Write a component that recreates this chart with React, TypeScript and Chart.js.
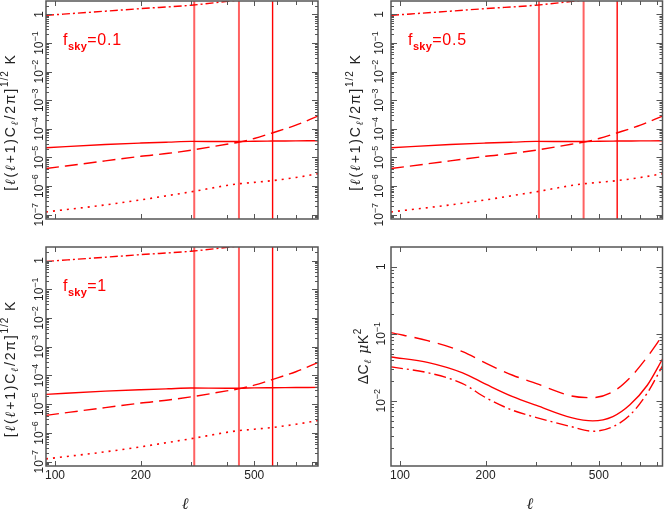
import React, { useEffect, useRef } from "react";
import { Chart, registerables } from "chart.js";

Chart.register(...registerables);

const W = 665;
const H = 511;

// ---------- axis ranges / ticks ----------
const L_MIN = 93;
const L_MAX = 837;
const Y_AMP_MIN = 7.08e-8;
const Y_AMP_MAX = 2.95;
const Y_ERR_MIN = 1.06e-3;
const Y_ERR_MAX = 1.97;

const X_TICK_LABELS = [100, 200, 500];
const X_MINOR_TICKS = [300, 400, 600, 700, 800];
const Y_AMP_DECADES = [-7, -6, -5, -4, -3, -2, -1, 0];
const Y_ERR_DECADES = [-2, -1, 0];

// ---------- amplitude panels (f_sky = 0.1, 0.5, 1) ----------
const ELL = [93, 150, 200, 250, 300, 400, 440, 500, 578, 700, 837];
const SIGNAL = [2.2e-5, 2.85e-5, 3.2e-5, 3.45e-5, 3.65e-5, 3.6e-5, 3.6e-5, 3.7e-5, 3.75e-5, 3.8e-5, 3.85e-5];
const NOISE_DASH = [4.1e-6, 7.6e-6, 1.1e-5, 1.4e-5, 1.8e-5, 2.9e-5, 3.4e-5, 4.6e-5, 7.2e-5, 1.35e-4, 2.8e-4];
const NOISE_DOT = [1.25e-7, 2.2e-7, 3.3e-7, 4.7e-7, 6.3e-7, 1.05e-6, 1.2e-6, 1.35e-6, 1.55e-6, 2.0e-6, 2.7e-6];
const ELL_FG = [93, 150, 200, 300, 411, 500];
const FOREGROUND = [0.93, 1.3, 1.6, 2.1, 2.95, 3.7];
const MARKERS = [308, 442, 580];
const FSKY = ["0.1", "0.5", "1"];

// ---------- error panel ----------
const ELL_ERR = [93, 126, 166, 201, 249, 302, 400, 476, 560, 643, 740, 840];
const ERR_DASH = [0.104, 0.078, 0.054, 0.036, 0.024, 0.018, 0.0118, 0.0111, 0.0136, 0.022, 0.045, 0.096];
const ERR_SOLID = [0.045, 0.037, 0.026, 0.0175, 0.0115, 0.0085, 0.0056, 0.005, 0.0058, 0.0087, 0.017, 0.043];
const ERR_DASHDOT = [0.032, 0.026, 0.018, 0.011, 0.0072, 0.0056, 0.0041, 0.0035, 0.0041, 0.0061, 0.013, 0.034];

const SANS = '"Liberation Sans", Arial, Helvetica, sans-serif';
const RED = "#ff0000";
const FRAME = "#555555";

type Area = { left: number; top: number; right: number; bottom: number };
type Panel = {
  key: string;
  kind: "amp" | "err";
  area: Area;
  fsky?: string;
  xLabels: boolean;
  yLabelX: number;
  titleX: number;
};

const PANELS: Panel[] = [
  { key: "tl", kind: "amp", area: { left: 46, top: 1, right: 318, bottom: 219 }, fsky: FSKY[0], xLabels: false, yLabelX: 43, titleX: 15 },
  { key: "tr", kind: "amp", area: { left: 391, top: 1, right: 662.5, bottom: 219 }, fsky: FSKY[1], xLabels: false, yLabelX: 383, titleX: 360 },
  { key: "bl", kind: "amp", area: { left: 46, top: 247, right: 318, bottom: 466 }, fsky: FSKY[2], xLabels: true, yLabelX: 43, titleX: 15 },
  { key: "br", kind: "err", area: { left: 391, top: 247, right: 662.5, bottom: 466 }, xLabels: true, yLabelX: 385, titleX: 368 },
];

type Seg = { t: string; font: string; dy?: number; sp?: number };

function richWidth(ctx: CanvasRenderingContext2D, segs: Seg[]) {
  let w = 0;
  for (const s of segs) {
    ctx.font = s.font;
    for (const ch of Array.from(s.t)) w += ctx.measureText(ch).width + (s.sp || 0);
  }
  return w;
}

function drawRich(ctx: CanvasRenderingContext2D, segs: Seg[], x: number, y: number, align: "left" | "center") {
  const w = richWidth(ctx, segs);
  let cx = align === "center" ? x - w / 2 : x;
  ctx.textAlign = "left";
  ctx.textBaseline = "alphabetic";
  for (const s of segs) {
    ctx.font = s.font;
    for (const ch of Array.from(s.t)) {
      ctx.fillText(ch, cx, y + (s.dy || 0));
      cx += ctx.measureText(ch).width + (s.sp || 0);
    }
  }
}

function drawRotated(ctx: CanvasRenderingContext2D, segs: Seg[], baseX: number, centerY: number) {
  ctx.save();
  ctx.translate(baseX, centerY);
  ctx.rotate(-Math.PI / 2);
  drawRich(ctx, segs, 0, 0, "center");
  ctx.restore();
}

function powLabel(d: number): Seg[] {
  if (d === 0) return [{ t: "1", font: `12px ${SANS}` }];
  return [
    { t: "10", font: `12px ${SANS}` },
    { t: "\u2212" + Math.abs(d), font: `9px ${SANS}`, dy: -5.5 },
  ];
}

function framePlugin(p: Panel) {
  return {
    id: "frame_" + p.key,
    afterDraw(chart: any) {
      const ctx: CanvasRenderingContext2D = chart.ctx;
      const { left, top, right, bottom } = chart.chartArea;
      const xs = chart.scales.x;
      const ys = chart.scales.y;
      const yMin = p.kind === "amp" ? Y_AMP_MIN : Y_ERR_MIN;
      const yMax = p.kind === "amp" ? Y_AMP_MAX : Y_ERR_MAX;
      ctx.save();
      // ticks
      ctx.strokeStyle = FRAME;
      ctx.lineWidth = 1;
      ctx.beginPath();
      const xt = [...X_TICK_LABELS.map((v) => [v, 5]), ...X_MINOR_TICKS.map((v) => [v, 4])];
      for (const [v, len] of xt) {
        const px = Math.round(xs.getPixelForValue(v)) + 0.5;
        ctx.moveTo(px, bottom);
        ctx.lineTo(px, bottom - len);
        ctx.moveTo(px, top);
        ctx.lineTo(px, top + len);
      }
      for (let d = -9; d <= 1; d++) {
        for (let k = 1; k <= 9; k++) {
          const v = k * Math.pow(10, d);
          if (v < yMin || v > yMax) continue;
          const py = Math.round(ys.getPixelForValue(v)) + 0.5;
          const len = k === 1 ? 6 : 3;
          ctx.moveTo(left, py);
          ctx.lineTo(left + len, py);
          ctx.moveTo(right, py);
          ctx.lineTo(right - len, py);
        }
      }
      ctx.stroke();
      // frame
      ctx.lineWidth = 1.5;
      ctx.strokeRect(left, top, right - left, bottom - top);

      // y tick labels
      ctx.fillStyle = "#222";
      const decs = p.kind === "amp" ? Y_AMP_DECADES : Y_ERR_DECADES;
      for (const d of decs) {
        const py = ys.getPixelForValue(Math.pow(10, d));
        drawRotated(ctx, powLabel(d), p.yLabelX, py);
      }
      // x tick labels
      if (p.xLabels) {
        for (const v of X_TICK_LABELS) {
          const px = xs.getPixelForValue(v);
          drawRich(ctx, [{ t: String(v), font: `12px ${SANS}` }], px, bottom + 13, "center");
        }
        ctx.fillStyle = "#222";
        drawRich(ctx, [{ t: "\u2113", font: `italic 16px "DejaVu Serif", serif` }], (left + right) / 2 + 3, 509, "center");
      }
      // y title
      ctx.fillStyle = "#222";
      if (p.kind === "amp") {
        const f = `14px ${SANS}`;
        const fi = `italic 14px "DejaVu Serif", serif`;
        const fs = `10px ${SANS}`;
        const fsi = `italic 10px "DejaVu Serif", serif`;
        const sp = 1.8;
        drawRotated(
          ctx,
          [
            { t: "[", font: f, sp },
            { t: "\u2113", font: fi, sp },
            { t: "(", font: f, sp },
            { t: "\u2113", font: fi, sp },
            { t: "+1)C", font: f, sp },
            { t: "\u2113", font: fsi, dy: 3, sp },
            { t: "/2\u03c0]", font: f, sp },
            { t: "1/2", font: fs, dy: -7, sp: 1 },
            { t: " K", font: f, sp },
          ],
          p.titleX,
          (top + bottom) / 2 + 12
        );
      } else {
        const f = `14px ${SANS}`;
        drawRotated(
          ctx,
          [
            { t: "\u0394C", font: f, sp: 0.5 },
            { t: "\u2113", font: `italic 10px "DejaVu Serif", serif`, dy: 3, sp: 2 },
            { t: " ", font: f },
            { t: "\u03bc", font: `italic 14px "DejaVu Serif", serif`, sp: 0.5 },
            { t: "K", font: f, sp: 0.5 },
            { t: "2", font: `10px ${SANS}`, dy: -7 },
          ],
          p.titleX,
          (top + bottom) / 2
        );
      }
      // f_sky annotation
      if (p.fsky) {
        ctx.fillStyle = RED;
        drawRich(
          ctx,
          [
            { t: "f", font: `16px ${SANS}`, sp: 0.5 },
            { t: "sky", font: `bold 11px ${SANS}`, dy: 5, sp: 0.3 },
            { t: "=" + p.fsky, font: `16px ${SANS}`, sp: 0.8 },
          ],
          left + 17,
          top + 44,
          "left"
        );
      }
      ctx.restore();
    },
  };
}

function pts(xs: number[], ys: number[]) {
  return xs.map((x, i) => ({ x, y: ys[i] }));
}

function lineDs(data: { x: number; y: number }[], dash: number[], width: number, color = RED, smooth = false) {
  return {
    data,
    borderColor: color,
    borderWidth: width,
    borderDash: dash,
    pointRadius: 0,
    fill: false,
    tension: smooth ? 0.4 : 0,
    cubicInterpolationMode: smooth ? ("monotone" as const) : ("default" as const),
  };
}

function buildConfig(p: Panel): any {
  const amp = p.kind === "amp";
  const markerColors = ["rgba(255,0,0,0.62)", "rgba(255,0,0,0.62)", RED];
  const markerWidths = [2, 2, 1.4];
  const datasets = amp
    ? [
        lineDs(pts(ELL, SIGNAL), [], 1.4, RED, true),
        lineDs(pts(ELL, NOISE_DASH), [13, 6], 1.4, RED, true),
        lineDs(pts(ELL, NOISE_DOT), [2, 5], 1.6, RED, true),
        lineDs(pts(ELL_FG, FOREGROUND), [8, 3, 2, 3], 1.4, RED, true),
        ...MARKERS.map((m, i) =>
          lineDs([{ x: m, y: Y_AMP_MIN }, { x: m, y: Y_AMP_MAX }], [], markerWidths[i], markerColors[i])
        ),
      ]
    : [
        lineDs(pts(ELL_ERR, ERR_DASH), [16, 8], 1.4, RED, true),
        lineDs(pts(ELL_ERR, ERR_SOLID), [], 1.4, RED, true),
        lineDs(pts(ELL_ERR, ERR_DASHDOT), [12, 4, 2, 4], 1.4, RED, true),
      ];
  const a = p.area;
  return {
    type: "line",
    data: { datasets },
    options: {
      animation: false,
      responsive: false,
      maintainAspectRatio: false,
      events: [],
      layout: { padding: { left: a.left, top: a.top, right: W - a.right, bottom: H - a.bottom } },
      scales: {
        x: { type: "logarithmic", min: L_MIN, max: L_MAX, display: false },
        y: { type: "logarithmic", min: amp ? Y_AMP_MIN : Y_ERR_MIN, max: amp ? Y_AMP_MAX : Y_ERR_MAX, display: false },
      },
      plugins: { legend: { display: false }, tooltip: { enabled: false } },
    },
    plugins: [framePlugin(p)],
  };
}

export default function App() {
  const r0 = useRef<HTMLCanvasElement>(null);
  const r1 = useRef<HTMLCanvasElement>(null);
  const r2 = useRef<HTMLCanvasElement>(null);
  const r3 = useRef<HTMLCanvasElement>(null);
  const refs = [r0, r1, r2, r3];

  useEffect(() => {
    const charts = PANELS.map((p, i) => new Chart(refs[i].current as HTMLCanvasElement, buildConfig(p)));
    return () => charts.forEach((c) => c.destroy());
  }, []);

  return (
    <div style={{ position: "fixed", left: 0, top: 0, width: W, height: H, background: "#fff", overflow: "hidden" }}>
      {PANELS.map((p, i) => (
        <canvas
          key={p.key}
          ref={refs[i]}
          width={W}
          height={H}
          style={{ position: "absolute", left: 0, top: 0, width: W, height: H }}
        />
      ))}
    </div>
  );
}
